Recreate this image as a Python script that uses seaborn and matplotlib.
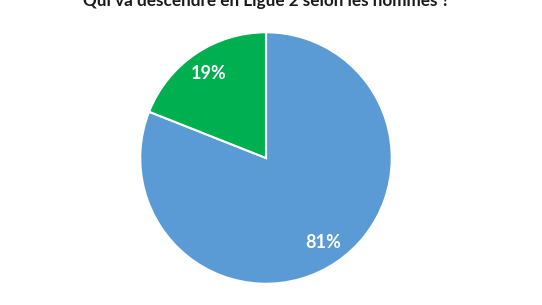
import matplotlib
matplotlib.use("Agg")
import matplotlib.pyplot as plt
import seaborn as sns

categories = ["Autre", "Choix"]
values = [81, 19]
colors = ["#5B9BD5", "#00B050"]
title = "Qui va descendre en Ligue 2 selon les hommes ?"

sns.set_theme(style="white")
plt.rcParams['font.family'] = ['Lato', 'DejaVu Sans']

W, H = 542, 305
fig = plt.figure(figsize=(W / 100, H / 100), dpi=100)
cx, cy, r = 266, 158, 127
ax = fig.add_axes([(cx - r) / W, (H - cy - r) / H, 2 * r / W, 2 * r / H])

wedges, texts, autotexts = ax.pie(
    values, colors=colors, startangle=90, counterclock=False,
    autopct='%1.0f%%', pctdistance=0.81, radius=1,
    wedgeprops=dict(edgecolor='white', linewidth=1.5),
    textprops=dict(color='white', fontsize=13, fontweight='bold'))
ax.set_xlim(-1.01, 1.01)
ax.set_ylim(-1.01, 1.01)
ax.set_aspect('equal')
ax.axis('off')

fig.text(266 / W, 1 - 6 / H, title, ha='center', va='baseline',
         fontsize=12.3, fontweight='bold', color='#1a1a1a')

fig.savefig("out.png", dpi=100, facecolor='white')
